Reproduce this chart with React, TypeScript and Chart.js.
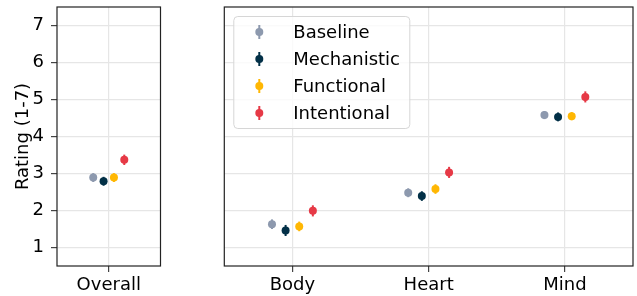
import React, { useEffect, useRef } from 'react';
import { Chart, registerables } from 'chart.js';
Chart.register(...registerables);

// ---- data ----
const overallLabel = ['Overall'];
const categories = ['Body', 'Heart', 'Mind'];
const conditions = ['Baseline', 'Mechanistic', 'Functional', 'Intentional'];
const conditionColors = ['#8D99AE', '#023047', '#FFB703', '#E63946'];
const conditionOffsets = [-0.15, -0.05, 0.05, 0.15];
const yTickValues = [1, 2, 3, 4, 5, 6, 7];
const yTitle = 'Rating (1-7)';

const overallMeans = [2.89, 2.79, 2.89, 3.37];
const overallErrors = [0.12, 0.12, 0.12, 0.14];

const baselineMeans = [1.63, 2.48, 4.58];
const mechanisticMeans = [1.46, 2.39, 4.53];
const functionalMeans = [1.57, 2.58, 4.55];
const intentionalMeans = [1.99, 3.03, 5.07];

const baselineErrors = [0.13, 0.12, 0.11];
const mechanisticErrors = [0.15, 0.13, 0.12];
const functionalErrors = [0.13, 0.13, 0.11];
const intentionalErrors = [0.15, 0.15, 0.15];

const categoryMeans = [baselineMeans, mechanisticMeans, functionalMeans, intentionalMeans];
const categoryErrors = [baselineErrors, mechanisticErrors, functionalErrors, intentionalErrors];

const FONT = 'DejaVu Sans';
const W = 637;
const H = 296;

const errorBarPlugin = {
  id: 'errorBars',
  beforeDatasetsDraw(chart: any) {
    const ctx = chart.ctx;
    const yScale = chart.scales.y;
    chart.data.datasets.forEach((ds: any, di: number) => {
      const meta = chart.getDatasetMeta(di);
      meta.data.forEach((pt: any, j: number) => {
        const v = ds.data[j].y;
        const e = ds.errors[j];
        const y1 = yScale.getPixelForValue(v - e);
        const y2 = yScale.getPixelForValue(v + e);
        ctx.save();
        ctx.strokeStyle = ds.borderColor;
        ctx.lineWidth = 2;
        ctx.beginPath();
        ctx.moveTo(pt.x, y1);
        ctx.lineTo(pt.x, y2);
        ctx.stroke();
        ctx.restore();
      });
    });
  },
};

const framePlugin = {
  id: 'frame',
  afterDraw(chart: any) {
    const { left, top, right, bottom } = chart.chartArea;
    const ctx = chart.ctx;
    ctx.save();
    ctx.strokeStyle = '#222';
    ctx.lineWidth = 1.2;
    ctx.strokeRect(left, top, right - left, bottom - top);
    ctx.restore();
    const leg = chart.options.plugins.innerLegend;
    if (leg && leg.show) {
      const x0 = left + 9;
      const y0 = top + 9;
      const w = 176;
      const h = 112;
      ctx.save();
      ctx.fillStyle = 'rgba(255,255,255,0.8)';
      ctx.strokeStyle = '#d6d6d6';
      ctx.lineWidth = 1;
      ctx.beginPath();
      (ctx as any).roundRect(x0 + 0.5, y0 + 0.5, w, h, 4);
      ctx.fill();
      ctx.stroke();
      conditions.forEach((name, i) => {
        const cy = y0 + 16 + i * 27;
        const mx = x0 + 26;
        ctx.strokeStyle = conditionColors[i];
        ctx.lineWidth = 2;
        ctx.beginPath();
        ctx.moveTo(mx, cy - 7);
        ctx.lineTo(mx, cy + 7);
        ctx.stroke();
        ctx.fillStyle = conditionColors[i];
        ctx.beginPath();
        ctx.arc(mx, cy, 4, 0, Math.PI * 2);
        ctx.fill();
        ctx.fillStyle = '#000';
        ctx.font = `18px "${FONT}"`;
        ctx.textBaseline = 'middle';
        ctx.textAlign = 'left';
        ctx.fillText(name, x0 + 60, cy + 1);
      });
      ctx.restore();
    }
  },
};

function zeroPad(s: any) {
  s.paddingTop = 0;
  s.paddingBottom = 0;
  s.paddingLeft = 0;
  s.paddingRight = 0;
}

function makeXAxis(min: number, max: number, labels: string[]) {
  return {
    type: 'linear',
    min,
    max,
    afterBuildTicks: (s: any) => {
      s.ticks = labels.map((_, i) => ({ value: i }));
    },
    afterFit: (s: any) => {
      s.height = 30;
      zeroPad(s);
    },
    ticks: {
      callback: (v: any) => labels[Math.round(v)],
      font: { family: FONT, size: 18 },
      color: '#000',
      padding: 3,
      maxRotation: 0,
      autoSkip: false,
    },
    grid: { color: '#e6e6e6', lineWidth: 1.2, tickColor: '#444', tickLength: 6, drawTicks: true },
    border: { display: false },
  };
}

function ChartCanvas({ config }: { config: any }) {
  const ref = useRef<HTMLCanvasElement | null>(null);
  useEffect(() => {
    if (!ref.current) return;
    const c = new Chart(ref.current, config);
    return () => c.destroy();
  }, []);
  return (
    <canvas
      ref={ref}
      width={W}
      height={H}
      style={{ position: 'absolute', left: 0, top: 0, width: W, height: H }}
    />
  );
}

export default function App() {
  const overallDatasets = conditions.map((name, i) => ({
    label: name,
    data: [{ x: 0 + conditionOffsets[i], y: overallMeans[i] }],
    errors: [overallErrors[i]],
    backgroundColor: conditionColors[i],
    borderColor: conditionColors[i],
    pointRadius: 4,
    pointBorderWidth: 0,
  }));
  const catDatasets = conditions.map((name, i) => ({
    label: name,
    data: categories.map((_, j) => ({ x: j + conditionOffsets[i], y: categoryMeans[i][j] })),
    errors: categoryErrors[i],
    backgroundColor: conditionColors[i],
    borderColor: conditionColors[i],
    pointRadius: 4,
    pointBorderWidth: 0,
  }));

  const yBase = {
    min: 0.5,
    max: 7.5,
    afterBuildTicks: (s: any) => {
      s.ticks = yTickValues.map((v) => ({ value: v }));
    },
    border: { display: false },
  };

  const leftConfig = {
    type: 'scatter',
    data: { datasets: overallDatasets },
    options: {
      responsive: false,
      animation: false,
      devicePixelRatio: 1,
      layout: { padding: { left: 0, right: W - 160.5, top: 7, bottom: 0 } },
      plugins: { legend: { display: false }, tooltip: { enabled: false }, innerLegend: { show: false } },
      scales: {
        x: makeXAxis(-0.5, 0.5, overallLabel),
        y: {
          ...yBase,
          afterFit: (s: any) => {
            s.width = 57;
            zeroPad(s);
          },
          ticks: { font: { family: FONT, size: 18 }, color: '#000', padding: 7 },
          grid: { color: '#e6e6e6', lineWidth: 1.2, tickColor: '#444', tickLength: 6, drawTicks: true },
          title: {
            display: true,
            text: yTitle,
            font: { family: FONT, size: 18 },
            color: '#000',
            padding: { top: 13, bottom: 0 },
          },
        },
      },
    },
    plugins: [errorBarPlugin, framePlugin],
  };

  const rightConfig = {
    type: 'scatter',
    data: { datasets: catDatasets },
    options: {
      responsive: false,
      animation: false,
      devicePixelRatio: 1,
      layout: { padding: { left: 224.3, right: 1.3, top: 7, bottom: 0 } },
      plugins: { legend: { display: false }, tooltip: { enabled: false }, innerLegend: { show: true } },
      scales: {
        x: makeXAxis(-0.5, 2.5, categories),
        y: {
          ...yBase,
          afterFit: (s: any) => {
            s.width = 0;
            zeroPad(s);
          },
          ticks: { display: false },
          grid: { color: '#e6e6e6', lineWidth: 1.2, drawTicks: false },
        },
      },
    },
    plugins: [errorBarPlugin, framePlugin],
  };

  return (
    <div style={{ position: 'fixed', left: 0, top: 0, width: W, height: H, background: '#fff' }}>
      <ChartCanvas config={leftConfig} />
      <ChartCanvas config={rightConfig} />
    </div>
  );
}
